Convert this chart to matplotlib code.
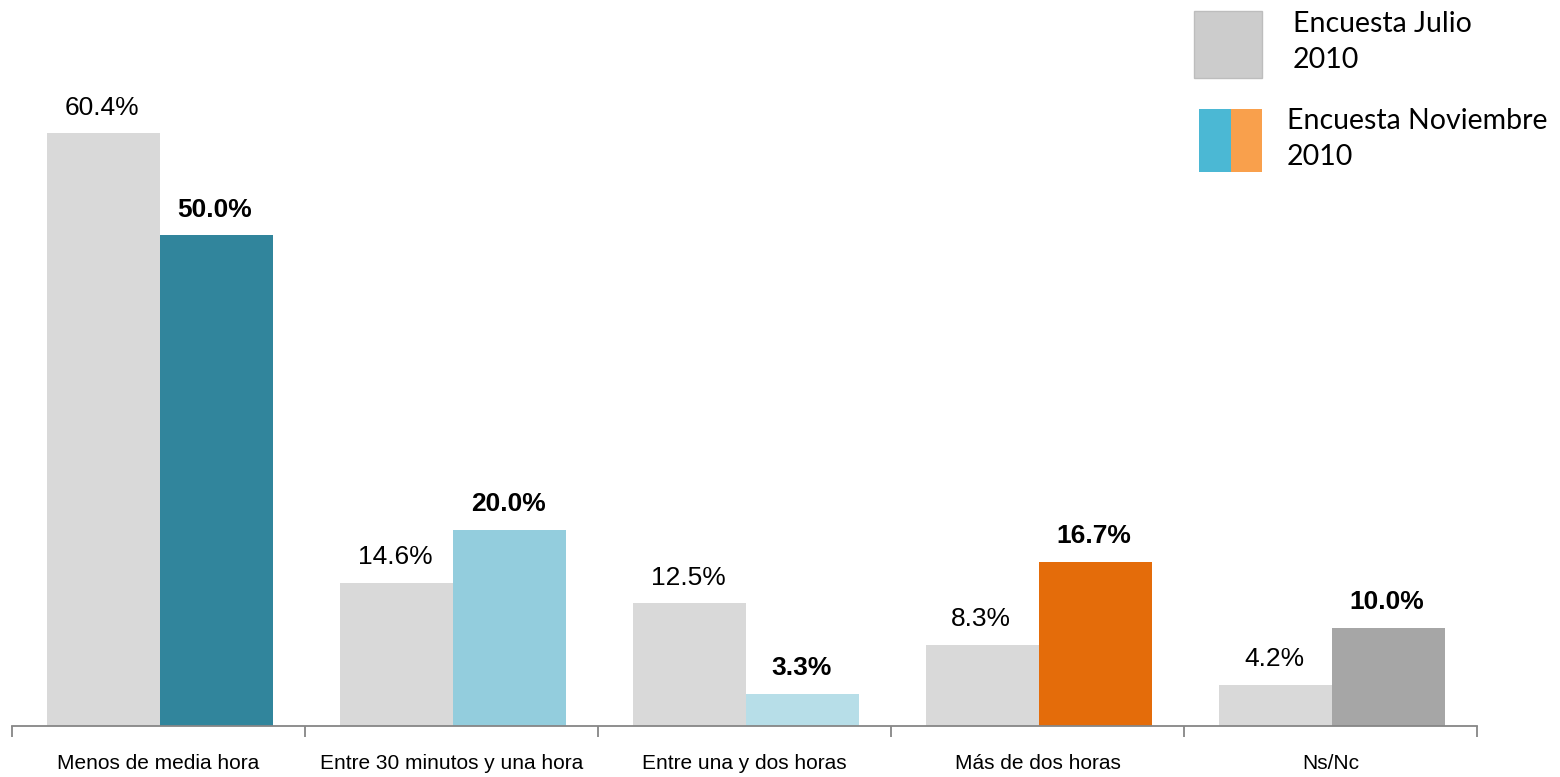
import matplotlib
matplotlib.use("Agg")
import matplotlib.pyplot as plt
from matplotlib.patches import Rectangle
import numpy as np

categories = ["Menos de media hora", "Entre 30 minutos y una hora",
              "Entre una y dos horas", "Más de dos horas", "Ns/Nc"]
julio = [60.4, 14.6, 12.5, 8.3, 4.2]
noviembre = [50.0, 20.0, 3.3, 16.7, 10.0]
nov_colors = ["#31859C", "#93CDDD", "#B7DEE8", "#E46C0A", "#A6A6A6"]
legend_labels = ["Encuesta Julio\n2010", "Encuesta Noviembre\n2010"]

plt.rcParams['font.family'] = ['Liberation Sans', 'DejaVu Sans']

fig = plt.figure(figsize=(15.6, 7.77), dpi=100)
ax = fig.add_axes([12/1560, 51/777, 1465/1560, 687/777])

x = np.arange(len(categories))
w = 0.386
ax.bar(x - w/2 + 0.004, julio, w, color="#D9D9D9")
ax.bar(x + w/2 + 0.004, noviembre, w, color=nov_colors)

for xi, v in zip(x, julio):
    ax.annotate(f"{v:.1f}%", (xi - w/2, v), xytext=(0, 18.5), textcoords="offset points",
                ha="center", va="center", fontsize=19)
for xi, v in zip(x, noviembre):
    ax.annotate(f"{v:.1f}%", (xi + w/2, v), xytext=(0, 18.5), textcoords="offset points",
                ha="center", va="center", fontsize=19, fontweight="bold")

ax.set_xlim(-0.5, len(categories) - 0.5)
ax.set_ylim(0, 70)
for s in ["top", "right", "left"]:
    ax.spines[s].set_visible(False)
ax.spines["bottom"].set_color("#868686")
ax.spines["bottom"].set_linewidth(1.3)
ax.set_yticks([])
ax.set_xticks(np.arange(len(categories) + 1) - 0.5)
ax.set_xticklabels([])
ax.tick_params(axis="x", length=8, width=1.3, color="#868686")
for xi, c in zip(x, categories):
    ax.annotate(c, (xi, 0), xytext=(0, -27), textcoords="offset points",
                ha="center", va="center", fontsize=15, annotation_clip=False)

# legend drawn by hand
W, H = 1560, 777
fig.add_artist(Rectangle((1194/W, 1 - 78/H), 68/W, 67/H, transform=fig.transFigure,
                         facecolor="#CCCCCC", edgecolor="#BDBDBD", lw=1))
fig.add_artist(Rectangle((1199/W, 1 - 172/H), 32/W, 63/H, transform=fig.transFigure,
                         facecolor="#4BB8D4", edgecolor="none"))
fig.add_artist(Rectangle((1231/W, 1 - 172/H), 31/W, 63/H, transform=fig.transFigure,
                         facecolor="#F9A04C", edgecolor="none"))
fig.text(1293/W, 1 - 42/H, legend_labels[0], fontsize=20.5, family=["Lato", "DejaVu Sans"],
         va="center", ha="left", linespacing=1.5)
fig.text(1287/W, 1 - 139/H, legend_labels[1], fontsize=20.5, family=["Lato", "DejaVu Sans"],
         va="center", ha="left", linespacing=1.5)

fig.savefig("out.png", dpi=100)
